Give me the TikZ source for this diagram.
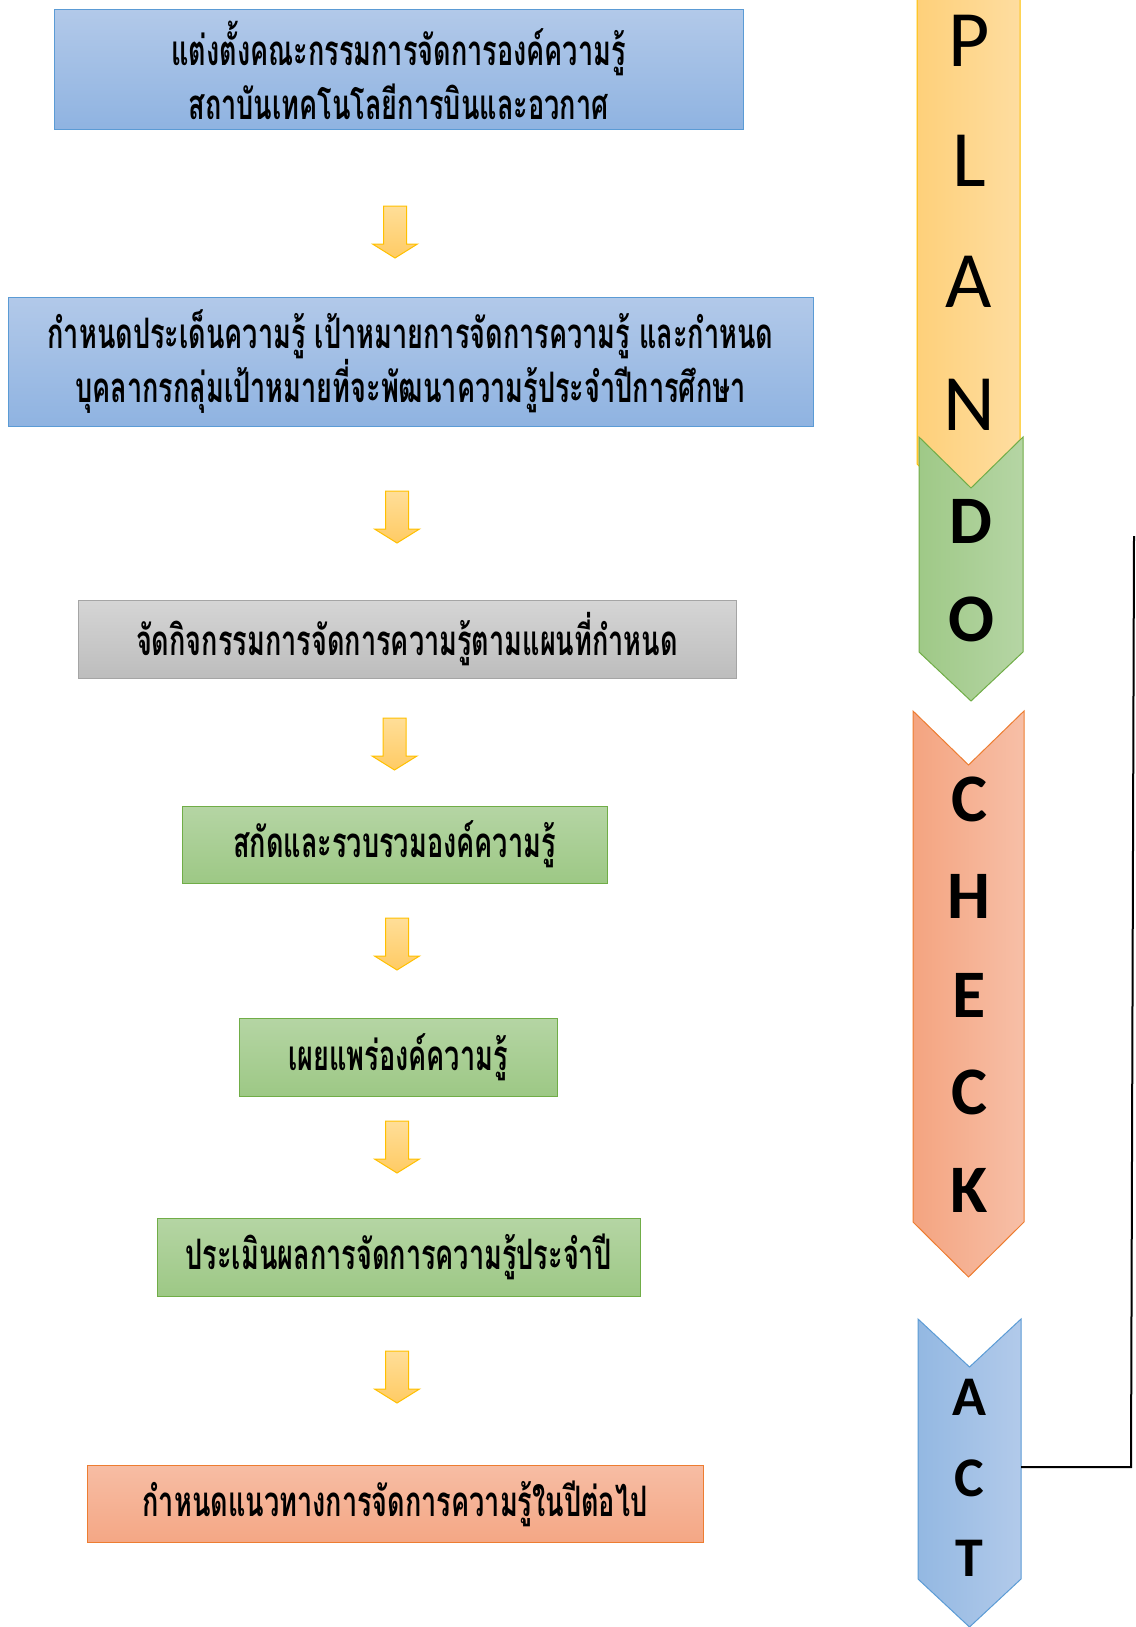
\documentclass[tikz,border=0pt]{standalone}
\usepackage{fontspec}
\setmainfont{Carlito}
\newfontfamily\thaifont[Script=Thai,FakeStretch=0.645]{Loma}
\usetikzlibrary{calc}
\definecolor{blueTop}{RGB}{178,201,233}
\definecolor{blueBot}{RGB}{143,179,225}
\definecolor{blueEdge}{RGB}{91,155,213}
\definecolor{grayTop}{RGB}{213,213,213}
\definecolor{grayBot}{RGB}{189,189,189}
\definecolor{grayEdge}{RGB}{165,165,165}
\definecolor{greenTop}{RGB}{181,213,164}
\definecolor{greenBot}{RGB}{157,200,133}
\definecolor{greenEdge}{RGB}{112,173,71}
\definecolor{orangeTop}{RGB}{247,189,164}
\definecolor{orangeBot}{RGB}{244,167,133}
\definecolor{orangeEdge}{RGB}{237,125,49}
\definecolor{arrTop}{RGB}{255,222,152}
\definecolor{arrBot}{RGB}{255,203,100}
\definecolor{arrEdge}{RGB}{255,192,0}
\tikzset{
  box/.style={rectangle, line width=1pt, inner sep=0pt, align=center,
    font=\thaifont\bfseries\fontsize{42}{54}\selectfont},
  bluebox/.style={box, draw=blueEdge, top color=blueTop, bottom color=blueBot},
  graybox/.style={box, draw=grayEdge, top color=grayTop, bottom color=grayBot},
  greenbox/.style={box, draw=greenEdge, top color=greenTop, bottom color=greenBot},
  orangebox/.style={box, draw=orangeEdge, top color=orangeTop, bottom color=orangeBot},
  downarr/.style={draw=arrEdge, line width=1pt, top color=arrTop, bottom color=arrBot},
  blockarrow/.pic={\path[downarr] (-11.5,0) -- (11.5,0) -- (11.5,38) -- (22.5,38) -- (0,52) -- (-22.5,38) -- (-11.5,38) -- cycle;},
  chevron/.style={line width=1pt},
  planletter/.style={inner sep=0pt, font=\fontsize{80}{80}\selectfont},
  pdcaletter/.style={inner sep=0pt, font=\fontsize{68}{68}\selectfont\bfseries},
  actletter/.style={inner sep=0pt, font=\fontsize{56}{56}\selectfont\bfseries},
  loopline/.style={line width=2pt, black}
}

\begin{document}
\begin{tikzpicture}[x=1pt,y=-1pt]
\useasboundingbox (0,0) rectangle (1135,1627);
% steps
\node[bluebox, minimum width=689, minimum height=120] (b1) at (398.5,70)
  {แต่งตั้งคณะกรรมการจัดการองค์ความรู้\\สถาบันเทคโนโลยีการบินและอวกาศ};
\node[bluebox, minimum width=805, minimum height=129] (b2) at (410.5,361.5)
  {กำหนดประเด็นความรู้ เป้าหมายการจัดการความรู้ และกำหนด\\บุคลากรกลุ่มเป้าหมายที่จะพัฒนาความรู้ประจำปีการศึกษา};
\node[graybox, minimum width=658, minimum height=78] (b3) at (407,639)
  {จัดกิจกรรมการจัดการความรู้ตามแผนที่กำหนด};
\node[greenbox, minimum width=425, minimum height=77] (b4) at (394.5,844.5)
  {สกัดและรวบรวมองค์ความรู้};
\node[greenbox, minimum width=318, minimum height=78] (b5) at (398,1057)
  {เผยแพร่องค์ความรู้};
\node[greenbox, minimum width=483, minimum height=78] (b6) at (398.5,1257)
  {ประเมินผลการจัดการความรู้ประจำปี};
\node[orangebox, minimum width=616, minimum height=77] (b7) at (395,1503.5)
  {กำหนดแนวทางการจัดการความรู้ในปีต่อไป};

% arrows between steps
\pic at (395,206) {blockarrow};
\pic at (397,491) {blockarrow};
\pic at (394.5,718) {blockarrow};
\pic at (397,918) {blockarrow};
\pic at (397,1121) {blockarrow};
\pic at (397,1351) {blockarrow};

% PDCA column
\draw[chevron, draw=arrEdge, left color={rgb,255:red,254;green,208;blue,122}, right color={rgb,255:red,254;green,221;blue,160}]
  (917,-5) -- (1020,-5) -- (1020,464) -- (968.5,516) -- (917,464) -- cycle;
\draw[chevron, draw=greenEdge, left color={rgb,255:red,159;green,201;blue,135}, right color=greenTop]
  (919,437) -- (971,488) -- (1023,437) -- (1023,652) -- (971,701) -- (919,652) -- cycle;
\draw[chevron, draw=orangeEdge, left color={rgb,255:red,244;green,164;blue,128}, right color={rgb,255:red,247;green,191;blue,167}]
  (913,711) -- (968.5,765) -- (1024,711) -- (1024,1222) -- (968.5,1277) -- (913,1222) -- cycle;
\draw[chevron, draw=blueEdge, left color={rgb,255:red,147;green,184;blue,226}, right color={rgb,255:red,178;green,202;blue,234}]
  (918,1319) -- (969.5,1367) -- (1021,1319) -- (1021,1579) -- (969.5,1627) -- (918,1579) -- cycle;

\node[planletter] (lP) at (969,41) {P};
\node[planletter] (lL) at (969,161) {L};
\node[planletter] (lA) at (969,282) {A};
\node[planletter] (lN) at (969,405) {N};
\node[pdcaletter] (lD) at (971,521) {D};
\node[pdcaletter] (lO) at (971,619) {O};
\node[pdcaletter] (lC1) at (969,799) {C};
\node[pdcaletter] (lH) at (969,896) {H};
\node[pdcaletter] (lE) at (969,995) {E};
\node[pdcaletter] (lC2) at (969,1092) {C};
\node[pdcaletter] (lK) at (969,1190) {K};
\node[actletter] (lA2) at (969,1397) {A};
\node[actletter] (lC3) at (969,1478) {C};
\node[actletter] (lT) at (969,1558) {T};

% feedback line
\coordinate (actE) at (1021,1467);
\coordinate (c1) at (1131,1467);
\coordinate (c2) at (1134,536);
\draw[loopline] (actE) -- (c1) -- (c2);
\end{tikzpicture}
\end{document}
